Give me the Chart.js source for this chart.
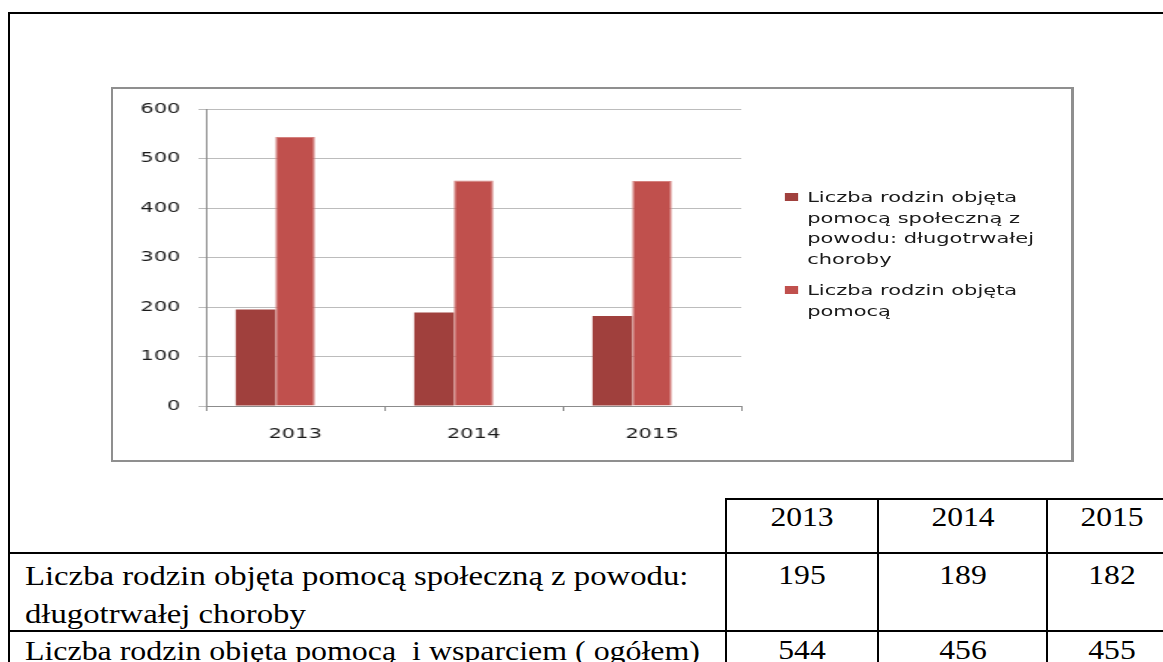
<!DOCTYPE html>
<html>
<head>
<meta charset="utf-8">
<script src="https://cdn.jsdelivr.net/npm/chart.js@4"></script>
<style>
html, body { margin: 0; padding: 0; background: #fff; overflow: hidden; }
body { width: 1163px; height: 662px; position: relative; font-family: 'Liberation Serif', 'Times New Roman', serif; }
.line { position: absolute; background: #000; }
#chartBox { position: absolute; left: 111px; top: 87px; width: 958px; height: 371px; border: 2px solid #8f8f8f; border-right-width: 3px; }
#stretch { position: absolute; left: 0; top: 0; width: 639px; height: 371px; transform: scaleX(1.4992); transform-origin: 0 0; }
#legend { position: absolute; left: 448px; top: 98px; font-family: 'DejaVu Sans', sans-serif; font-size: 14px; line-height: 20.5px; color: #1a1a1a; }
.item { position: relative; padding-left: 15px; width: 160px; margin-bottom: 11px; }
.swatch { position: absolute; left: 0; top: 6px; width: 9px; height: 8px; }
.cellText { position: absolute; font-size: 27.5px; line-height: 38px; white-space: pre; color: #000; }
</style>
</head>
<body>
<div class="line" style="left:8px;top:12px;width:1160px;height:2px"></div>
<div class="line" style="left:8px;top:12px;width:2px;height:660px"></div>

<div id="chartBox">
  <div id="stretch">
    <canvas id="chart" width="639" height="371"></canvas>
    <div id="legend"></div>
  </div>
</div>

<div id="table"></div>

<script>
const years = ['2013', '2014', '2015'];
const chronicIllness = [195, 189, 182];
const totalAssisted = [544, 456, 455];
// the source sheet had a third, empty series that still takes a slot in each group
const emptySeries = [null, null, null];
const legendLabels = [
    'Liczba rodzin objęta pomocą społeczną z powodu: długotrwałej choroby',
    'Liczba rodzin objęta pomocą'
];
const rowLabels = [
    ['Liczba rodzin objęta pomocą społeczną z powodu:', 'długotrwałej choroby'],
    ['Liczba rodzin objęta pomocą  i wsparciem ( ogółem)']
];
const yMax = 600;
const yStep = 100;

const colors = ['#a0403d', '#c0504d'];

// chart
const chart = new Chart(document.getElementById('chart'), {
    type: 'bar',
    data: {
        labels: years,
        datasets: [
            {label: legendLabels[0], data: chronicIllness, backgroundColor: colors[0], borderWidth: 0},
            {label: legendLabels[1], data: totalAssisted, backgroundColor: colors[1], borderColor: '#d4817e', borderWidth: 1},
            {label: '', data: emptySeries, backgroundColor: 'transparent', borderWidth: 0}
        ]
    },
    options: {
        responsive: false,
        animation: false,
        layout: {padding: {top: 18, right: 220, left: 0, bottom: 0}},
        datasets: {bar: {categoryPercentage: 0.666, barPercentage: 1}},
        plugins: {
            legend: {display: false},
            tooltip: {enabled: false}
        },
        scales: {
            x: {
                grid: {display: true, drawOnChartArea: false, drawTicks: true, tickLength: 5, color: '#8c8c8c'},
                border: {display: true, color: '#8c8c8c', width: 1},
                ticks: {padding: 15, color: '#1a1a1a', font: {family: 'DejaVu Sans', size: 14}},
                afterFit: (s) => { s.height = 54; }
            },
            y: {
                min: 0,
                max: yMax,
                grid: {color: '#bcbcbc', tickLength: 5},
                border: {display: true, color: '#8c8c8c', width: 1},
                ticks: {stepSize: yStep, padding: 12, color: '#1a1a1a', font: {family: 'DejaVu Sans', size: 14}},
                afterFit: (s) => { s.width = 62; }
            }
        }
    }
});

// legend built from the labelled datasets
const legend = document.getElementById('legend');
chart.data.datasets.filter((ds) => ds.label).forEach((ds) => {
    const item = document.createElement('div');
    item.className = 'item';
    const sw = document.createElement('span');
    sw.className = 'swatch';
    sw.style.background = ds.backgroundColor;
    item.appendChild(sw);
    item.appendChild(document.createTextNode(ds.label));
    legend.appendChild(item);
});

// table under the chart
const table = document.getElementById('table');
const colX = [8, 725, 877, 1046, 1175];
const rowY = [498, 552, 630];

function addLine(l, t, w, h) {
    const d = document.createElement('div');
    d.className = 'line';
    d.style.cssText = `left:${l}px;top:${t}px;width:${w}px;height:${h}px`;
    table.appendChild(d);
}
function addText(txt, x, top, center, sx) {
    const d = document.createElement('div');
    d.className = 'cellText';
    d.textContent = txt;
    d.style.left = x + 'px';
    d.style.top = top + 'px';
    d.style.transformOrigin = center ? '50% 0' : '0 0';
    d.style.transform = center ? 'translateX(-50%) scaleX(1.15)' : `scaleX(${sx})`;
    table.appendChild(d);
}

addLine(colX[1], rowY[0], 1200, 2);
addLine(colX[0], rowY[1], 1200, 2);
addLine(colX[0], rowY[2], 1200, 2);
for (let c = 1; c <= 3; c++) addLine(colX[c], rowY[0], 2, 200);

const cellCenter = (c) => (colX[c] + colX[c + 1]) / 2 + 1;
years.forEach((y, i) => addText(y, cellCenter(i + 1), rowY[0], true));

rowLabels[0].forEach((t, k) => addText(t, 25, rowY[1] + 5 + k * 38, false, 1.19));
chronicIllness.forEach((v, i) => addText(String(v), cellCenter(i + 1), rowY[1] + 4, true));

rowLabels[1].forEach((t, k) => addText(t, 25, rowY[2] + 2 + k * 38, false, 1.16));
totalAssisted.forEach((v, i) => addText(String(v), cellCenter(i + 1), rowY[2] + 1, true));
</script>
</body>
</html>
